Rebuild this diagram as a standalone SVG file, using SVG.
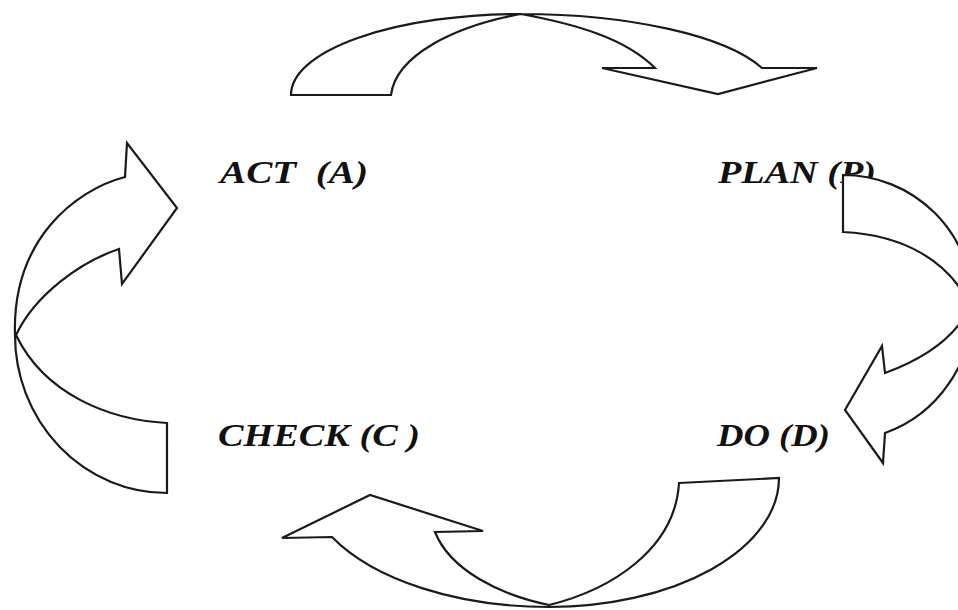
<svg xmlns="http://www.w3.org/2000/svg" width="958" height="610" viewBox="0 0 958 610">
  <style>
    .lbl { font-family: "Liberation Serif", "Times New Roman", serif; font-weight: bold; font-style: italic; font-size: 32px; fill: #111; white-space: pre; }
    .arrow { fill: #fff; stroke: #1a1a1a; stroke-width: 2.2; stroke-linejoin: miter; }
  </style>
  <rect width="958" height="610" fill="#fff"/>
  <g id="node-act">
    <text class="lbl" x="220" y="183" textLength="148" lengthAdjust="spacingAndGlyphs" xml:space="preserve">ACT  (A)</text>
  </g>
  <g id="node-plan">
    <text class="lbl" x="718" y="183" textLength="158" lengthAdjust="spacingAndGlyphs">PLAN (P)</text>
  </g>
  <g id="node-check">
    <text class="lbl" x="218" y="446" textLength="202" lengthAdjust="spacingAndGlyphs" xml:space="preserve">CHECK (C )</text>
  </g>
  <g id="node-do">
    <text class="lbl" x="717" y="446" textLength="113" lengthAdjust="spacingAndGlyphs">DO (D)</text>
  </g>
  <g id="connectors">
    <path class="arrow" d="M291,95 A230,81 0 0 1 521,14 A256,81 0 0 1 762,68 L817,68 L718,94 L602,68 L655,68 C625,38 575,24 521,14 C455,26 396,55 391,95 Z"/>
    <path class="arrow" d="M843,175 A130,130 0 0 1 973,305 A130,135 0 0 1 885,433 L883,463 L845,410 L882,346 L885,373 C920,360 955,340 970,306 C950,262 905,235 843,232 Z"/>
    <path class="arrow" d="M679,483 L779,478 A230,129 0 0 1 549,607 A244,129 0 0 1 332,537 L282,538 L370,495 L483,531 L435,532 C450,570 500,595 549,605 C610,590 675,550 679,483 Z"/>
    <path class="arrow" d="M167,423 L167,493 A152,158 0 0 1 15,335 C12,240 75,190 125,177 L127,143 L177,208 L122,284 L119,249 C80,262 35,295 16,335 C45,395 110,420 167,423 Z"/>
  </g>
</svg>
